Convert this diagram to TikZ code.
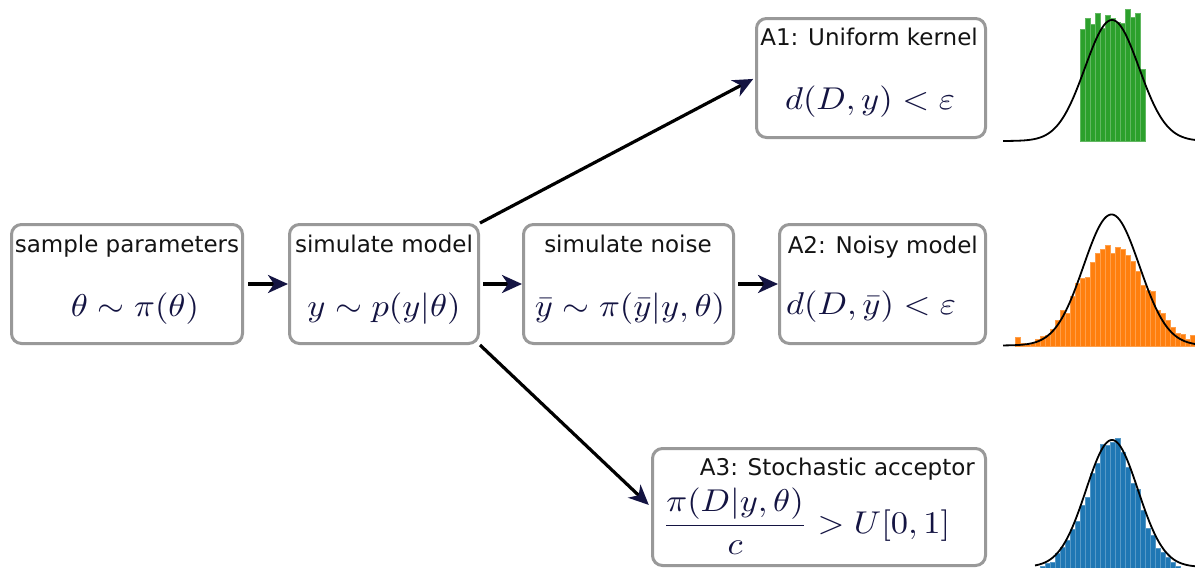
\documentclass[tikz,border=0pt]{standalone}
\usepackage[no-math]{fontspec}
\setmainfont{DejaVu Sans}
\usepackage{graphicx}
\usetikzlibrary{arrows.meta}
\definecolor{navy}{RGB}{20,20,66}
\definecolor{boxgray}{RGB}{153,153,153}
\definecolor{mplgreen}{HTML}{2CA02C}
\definecolor{mplorange}{HTML}{FF7F0E}
\definecolor{mplblue}{HTML}{1F77B4}
\newcommand\mth[1]{\scalebox{3.45}[3.15]{\fontsize{10}{12}\selectfont$\displaystyle #1$}}
\begin{document}
\begin{tikzpicture}[x=1pt,y=-1pt,
  box/.style={draw=boxgray, line width=3pt, rounded corners=10pt, fill=white, inner sep=0pt},
  lbl/.style={font=\fontsize{23}{26}\selectfont, text=black!92, anchor=base, inner sep=0pt},
  mlbl/.style={text=navy, anchor=base, inner sep=0pt},
  arr/.style={line width=3.2pt, -{Stealth[length=20pt,width=18pt,inset=6pt,color=navy]}},
  curve/.style={line width=1.8pt, black}]
\useasboundingbox (0,0) rectangle (1195,568);
\fill[white] (0,0) rectangle (1195,568);
% boxes
\node[box, minimum width=231pt, minimum height=119pt] (B1) at (127,284) {};
\node[box, minimum width=189pt, minimum height=119pt] (B2) at (384,284) {};
\node[box, minimum width=210pt, minimum height=119pt] (B3) at (628.5,284) {};
\node[box, minimum width=206pt, minimum height=119pt] (B4) at (882.5,284) {};
\node[box, minimum width=229pt, minimum height=119pt] (A1) at (871,78) {};
\node[box, minimum width=333pt, minimum height=117pt] (A3) at (819,507) {};
% labels
\node[lbl] (t1) at (127,252) {sample parameters};
\node[mlbl] (m1) at (135,316) {\mth{\theta\sim\pi(\theta)}};
\node[lbl] (t2) at (384,252) {simulate model};
\node[mlbl] (m2) at (384,316) {\mth{y\sim p(y|\theta)}};
\node[lbl] (t3) at (628,252) {simulate noise};
\node[mlbl] (m3) at (630,316) {\mth{\bar y\sim \pi(\bar y|y,\theta)}};
\node[lbl, anchor=base east] (t4) at (978,253) {A2: Noisy model};
\node[mlbl, anchor=base west] (m4) at (786,314) {\mth{d(D,\bar y)<\varepsilon}};
\node[lbl, anchor=base east] (ta1) at (978,45) {A1: Uniform kernel};
\node[mlbl] (ma1) at (870,109) {\mth{d(D,y)<\varepsilon}};
\node[lbl, anchor=base east] (ta3) at (975,475) {A3: Stochastic acceptor};
\node[mlbl, anchor=base west] (ma3) at (662,533) {\mth{\frac{\pi(D|y,\theta)}{c}>U[0,1]}};
% arrows
\draw[arr, shorten <=4pt] (B1) -- (B2);
\draw[arr, shorten <=3pt] (B2) -- (B3);
\draw[arr, shorten <=3pt] (B3) -- (B4);
\draw[arr, shorten >=2pt] (B2.north east) -- (A1.west);
\draw[arr, shorten >=3pt] (B2.south east) -- (A3.west);
% histograms
\foreach \h [count=\i from 0] in {29,18,24,13,28,15,18,22,23,9,17,13,69}
  \filldraw[fill=mplgreen, draw=mplgreen!75!white, line width=0.4pt] ({1080+5*\i},141) rectangle ({1085+5*\i},\h);
\draw[curve] plot[domain=1003:1195, samples=120] (\x, {141-121*exp(-((\x-1112)/27)^2/2)});
\foreach \h [count=\i from 0] in {337.3,343.3,344,343.3,339.3,336,335,329,320,310,313.3,295.7,282.7,277.7,276.7,261.7,252.7,249.3,245,253.3,247.3,248.7,255,260.7,271,285,290,290.7,310,313.3,320,326.7,333.3,334.3,339.3,335}
  \filldraw[fill=mplorange, draw=mplorange!75!white, line width=0.4pt] ({1015+5*\i},346) rectangle ({1020+5*\i},\h);
\draw[curve] plot[domain=1003:1195, samples=120] (\x, {345.5-131*exp(-((\x-1111.5)/28)^2/2)});
\foreach \h [count=\i from 0] in {566,563.3,561.7,553.3,547.3,540,529.3,521,505,496.7,473.3,462.7,444.3,445,441.7,438.3,451.7,466.7,483.3,489.3,510,528.3,535,548.3,551.7,556.7,561.7,565.7}
  \filldraw[fill=mplblue, draw=mplblue!75!white, line width=0.4pt] ({1040+5*\i},568) rectangle ({1045+5*\i},\h);
\draw[curve] plot[domain=1035:1195, samples=120] (\x, {567-127*exp(-((\x-1112)/26)^2/2)});
\end{tikzpicture}
\end{document}
